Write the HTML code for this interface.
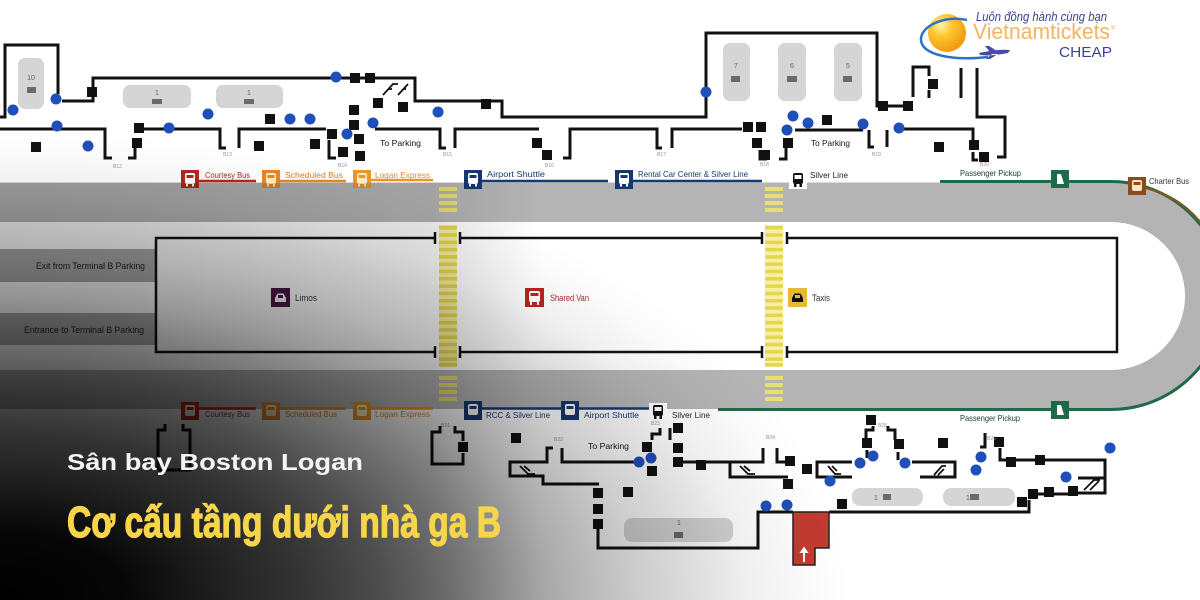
<!DOCTYPE html>
<html><head><meta charset="utf-8">
<style>
html,body{margin:0;padding:0;background:#fff;}
svg{display:block;}
text{font-family:"Liberation Sans",sans-serif;}
</style></head><body>
<svg width="1200" height="600" viewBox="0 0 1200 600" xmlns="http://www.w3.org/2000/svg">
<defs>
<radialGradient id="ov" gradientUnits="userSpaceOnUse" cx="0" cy="0" r="1" gradientTransform="matrix(850,0,0,470,0,600)">
<stop offset="0" stop-color="#000" stop-opacity="1"/>
<stop offset="0.15" stop-color="#000" stop-opacity="0.97"/>
<stop offset="0.28" stop-color="#000" stop-opacity="0.84"/>
<stop offset="0.36" stop-color="#000" stop-opacity="0.77"/>
<stop offset="0.45" stop-color="#000" stop-opacity="0.66"/>
<stop offset="0.55" stop-color="#000" stop-opacity="0.5"/>
<stop offset="0.65" stop-color="#000" stop-opacity="0.33"/>
<stop offset="0.75" stop-color="#000" stop-opacity="0.2"/>
<stop offset="0.82" stop-color="#000" stop-opacity="0.13"/>
<stop offset="0.88" stop-color="#000" stop-opacity="0.06"/>
<stop offset="0.95" stop-color="#000" stop-opacity="0.02"/>
<stop offset="1" stop-color="#000" stop-opacity="0"/>
</radialGradient>
<linearGradient id="ovl" gradientUnits="userSpaceOnUse" x1="0" y1="0" x2="600" y2="0">
<stop offset="0" stop-color="#000" stop-opacity="0.13"/>
<stop offset="0.72" stop-color="#000" stop-opacity="0.1"/>
<stop offset="0.9" stop-color="#000" stop-opacity="0"/>
<stop offset="1" stop-color="#000" stop-opacity="0"/>
</linearGradient>
<radialGradient id="gl" cx="0.35" cy="0.3" r="0.75">
<stop offset="0" stop-color="#fff3a8"/>
<stop offset="0.4" stop-color="#ffc52c"/>
<stop offset="1" stop-color="#ef9512"/>
</radialGradient>
</defs>

<rect width="1200" height="600" fill="#fff"/>

<!-- ROAD -->
<path d="M0,182.5 H1111 A113,113 0 0 1 1111,409 H0 Z" fill="#b4b4b4"/>
<path d="M0,222 H1111 A74,74 0 0 1 1111,370 H0 Z" fill="#fff"/>
<rect x="0" y="249" width="156" height="33" fill="#ababab"/>
<rect x="0" y="313" width="156" height="32" fill="#ababab"/>

<!-- green curb line -->
<path d="M940,181.5 H1111 A114,114 0 0 1 1111,409.5 H718" fill="none" stroke="#1d6b48" stroke-width="3"/>
<path d="M1142,187 Q1178,195 1200,222" fill="none" stroke="#7a5a22" stroke-width="2.5"/>

<!-- crosswalks -->
<g fill="#e9df6f">
<rect x="439" y="187" width="18" height="4"/><rect x="439" y="194" width="18" height="4"/><rect x="439" y="201" width="18" height="4"/><rect x="439" y="208" width="18" height="4"/>
<rect x="439" y="376" width="18" height="4"/><rect x="439" y="383" width="18" height="4"/><rect x="439" y="390" width="18" height="4"/><rect x="439" y="397" width="18" height="4"/>
<rect x="765" y="187" width="18" height="4"/><rect x="765" y="194" width="18" height="4"/><rect x="765" y="201" width="18" height="4"/><rect x="765" y="208" width="18" height="4"/>
<rect x="765" y="376" width="18" height="4"/><rect x="765" y="383" width="18" height="4"/><rect x="765" y="390" width="18" height="4"/><rect x="765" y="397" width="18" height="4"/>
</g>
<rect x="439" y="225" width="18" height="142" fill="#f6f0a4"/>
<rect x="765" y="225" width="18" height="142" fill="#f6f0a4"/>
<g fill="#e6d64c">
<rect x="439" y="226" width="18" height="3.5"/><rect x="439" y="233.3" width="18" height="3.5"/><rect x="439" y="240.6" width="18" height="3.5"/><rect x="439" y="247.9" width="18" height="3.5"/><rect x="439" y="255.2" width="18" height="3.5"/><rect x="439" y="262.5" width="18" height="3.5"/><rect x="439" y="269.8" width="18" height="3.5"/><rect x="439" y="277.1" width="18" height="3.5"/><rect x="439" y="284.4" width="18" height="3.5"/><rect x="439" y="291.7" width="18" height="3.5"/><rect x="439" y="299" width="18" height="3.5"/><rect x="439" y="306.3" width="18" height="3.5"/><rect x="439" y="313.6" width="18" height="3.5"/><rect x="439" y="320.9" width="18" height="3.5"/><rect x="439" y="328.2" width="18" height="3.5"/><rect x="439" y="335.5" width="18" height="3.5"/><rect x="439" y="342.8" width="18" height="3.5"/><rect x="439" y="350.1" width="18" height="3.5"/><rect x="439" y="357.4" width="18" height="3.5"/><rect x="439" y="363" width="18" height="3.5"/>
<rect x="765" y="226" width="18" height="3.5"/><rect x="765" y="233.3" width="18" height="3.5"/><rect x="765" y="240.6" width="18" height="3.5"/><rect x="765" y="247.9" width="18" height="3.5"/><rect x="765" y="255.2" width="18" height="3.5"/><rect x="765" y="262.5" width="18" height="3.5"/><rect x="765" y="269.8" width="18" height="3.5"/><rect x="765" y="277.1" width="18" height="3.5"/><rect x="765" y="284.4" width="18" height="3.5"/><rect x="765" y="291.7" width="18" height="3.5"/><rect x="765" y="299" width="18" height="3.5"/><rect x="765" y="306.3" width="18" height="3.5"/><rect x="765" y="313.6" width="18" height="3.5"/><rect x="765" y="320.9" width="18" height="3.5"/><rect x="765" y="328.2" width="18" height="3.5"/><rect x="765" y="335.5" width="18" height="3.5"/><rect x="765" y="342.8" width="18" height="3.5"/><rect x="765" y="350.1" width="18" height="3.5"/><rect x="765" y="357.4" width="18" height="3.5"/><rect x="765" y="363" width="18" height="3.5"/>
</g>

<!-- island rectangle -->
<g fill="none" stroke="#111" stroke-width="2.5">
<path d="M435,238 H156 V352 H435"/>
<path d="M460,238 H762 M460,352 H762"/>
<path d="M787,238 H1117 V352 H787"/>
<path d="M435,232 V244 M460,232 V244 M762,232 V244 M787,232 V244 M435,346 V358 M460,346 V358 M762,346 V358 M787,346 V358"/>
</g>

<!-- lane labels -->
<text x="36" y="269" font-size="9" fill="#222" textLength="109" lengthAdjust="spacingAndGlyphs">Exit from Terminal B Parking</text>
<text x="24" y="333" font-size="9" fill="#222" textLength="120" lengthAdjust="spacingAndGlyphs">Entrance to Terminal B Parking</text>

<!-- middle icons -->
<g transform="translate(271,288)"><rect width="19" height="19" fill="#4a1846"/><path d="M4,14 V10 L6.5,5.5 H12.5 L15,10 V14 Z" fill="#fff"/><rect x="7" y="7" width="5" height="3" fill="#4a1846"/></g>
<text x="295" y="301" font-size="9" fill="#333" textLength="22" lengthAdjust="spacingAndGlyphs">Limos</text>
<g transform="translate(525,288)"><rect width="19" height="19" fill="#b8261e"/><rect x="4" y="3" width="11" height="11" rx="2" fill="#fff"/><rect x="5.5" y="5" width="8" height="3" fill="#b8261e"/><rect x="5" y="14" width="2" height="3" fill="#fff"/><rect x="12" y="14" width="2" height="3" fill="#fff"/></g>
<text x="550" y="301" font-size="9" fill="#a52a22" textLength="39" lengthAdjust="spacingAndGlyphs">Shared Van</text>
<g transform="translate(788,288)"><rect width="19" height="19" fill="#eab830"/><path d="M4,14 V10 L6.5,5.5 H12.5 L15,10 V14 Z" fill="#111"/><rect x="7" y="7" width="5" height="3" fill="#eab830"/></g>
<text x="812" y="301" font-size="9" fill="#333" textLength="18" lengthAdjust="spacingAndGlyphs">Taxis</text>

<!-- TOP LABEL LINES -->
<g stroke-width="2.5" fill="none">
<path d="M199,181 H256" stroke="#b8261e"/>
<path d="M280,181 H346" stroke="#e0892a"/>
<path d="M371,180 H433" stroke="#e8962e"/>
<path d="M482,181 H608" stroke="#17386e"/>
<path d="M633,181 H762" stroke="#17386e"/>
<path d="M199,408.5 H256" stroke="#b8261e"/>
<path d="M280,408.5 H346" stroke="#e0892a"/>
<path d="M371,408.5 H433" stroke="#e8962e"/>
<path d="M482,408.5 H561" stroke="#17386e"/>
<path d="M579,408.5 H650" stroke="#17386e"/>
</g>

<!-- top icons -->
<g transform="translate(181,170)"><rect width="18" height="18" fill="#b8261e"/><rect x="4" y="3" width="10" height="11" rx="2" fill="#fff"/><rect x="5.5" y="5" width="7" height="3" fill="#b8261e"/><rect x="5" y="14" width="2" height="2.5" fill="#fff"/><rect x="11" y="14" width="2" height="2.5" fill="#fff"/></g>
<g transform="translate(262,170)"><rect width="18" height="18" fill="#e0892a"/><rect x="4" y="3" width="10" height="11" rx="2" fill="#fdebc4"/><rect x="5.5" y="5" width="7" height="3" fill="#e0892a"/><rect x="5" y="14" width="2" height="2.5" fill="#fdebc4"/><rect x="11" y="14" width="2" height="2.5" fill="#fdebc4"/></g>
<g transform="translate(353,170)"><rect width="18" height="18" fill="#e8962e"/><rect x="4" y="3" width="10" height="11" rx="2" fill="#fdebc4"/><rect x="5.5" y="5" width="7" height="3" fill="#e8962e"/><rect x="5" y="14" width="2" height="2.5" fill="#fdebc4"/><rect x="11" y="14" width="2" height="2.5" fill="#fdebc4"/></g>
<g transform="translate(464,170)"><rect width="18" height="19" fill="#17386e"/><rect x="4" y="3" width="10" height="11" rx="2" fill="#fff"/><rect x="5.5" y="5" width="7" height="3" fill="#17386e"/><rect x="5" y="14" width="2" height="2.5" fill="#fff"/><rect x="11" y="14" width="2" height="2.5" fill="#fff"/></g>
<g transform="translate(615,170)"><rect width="18" height="19" fill="#17386e"/><rect x="4" y="3" width="10" height="11" rx="2" fill="#fff"/><rect x="5.5" y="5" width="7" height="3" fill="#17386e"/><rect x="5" y="14" width="2" height="2.5" fill="#fff"/><rect x="11" y="14" width="2" height="2.5" fill="#fff"/></g>
<g transform="translate(789,171)"><rect width="18" height="18" fill="#fff"/><rect x="4" y="2" width="10" height="11" rx="2" fill="#111"/><rect x="5.5" y="4" width="7" height="4" fill="#fff"/><rect x="5" y="13" width="2.5" height="3" fill="#111"/><rect x="10.5" y="13" width="2.5" height="3" fill="#111"/></g>
<g transform="translate(1051,170)"><rect width="18" height="18" fill="#1d6b48"/><path d="M6,4 H10 L13,14 H6 Z" fill="#fff"/></g>
<g transform="translate(1128,177)"><rect width="18" height="18" fill="#8b4a1c"/><rect x="4" y="3" width="10" height="11" rx="2" fill="#fde3c0"/><rect x="5.5" y="5" width="7" height="3" fill="#8b4a1c"/></g>

<g font-size="8.5">
<text x="205" y="178" fill="#a52a22" textLength="45" lengthAdjust="spacingAndGlyphs">Courtesy Bus</text>
<text x="285" y="178" fill="#cf8030" textLength="58" lengthAdjust="spacingAndGlyphs">Scheduled Bus</text>
<text x="375" y="178" fill="#d58a30" textLength="55" lengthAdjust="spacingAndGlyphs">Logan Express</text>
<text x="487" y="177" fill="#17386e" textLength="58" lengthAdjust="spacingAndGlyphs">Airport Shuttle</text>
<text x="638" y="177" fill="#17386e" textLength="110" lengthAdjust="spacingAndGlyphs">Rental Car Center &amp; Silver Line</text>
<text x="810" y="178" fill="#222" textLength="38" lengthAdjust="spacingAndGlyphs">Silver Line</text>
<text x="960" y="176" fill="#1a3434" textLength="61" lengthAdjust="spacingAndGlyphs">Passenger Pickup</text>
<text x="1149" y="184" fill="#333" textLength="40" lengthAdjust="spacingAndGlyphs">Charter Bus</text>
</g>

<!-- bottom icons -->
<g transform="translate(181,402)"><rect width="18" height="18" fill="#b8261e"/><rect x="4" y="3" width="10" height="11" rx="2" fill="#fff"/><rect x="5.5" y="5" width="7" height="3" fill="#b8261e"/></g>
<g transform="translate(262,402)"><rect width="18" height="18" fill="#e0892a"/><rect x="4" y="3" width="10" height="11" rx="2" fill="#fdebc4"/><rect x="5.5" y="5" width="7" height="3" fill="#e0892a"/></g>
<g transform="translate(353,402)"><rect width="18" height="18" fill="#e8962e"/><rect x="4" y="3" width="10" height="11" rx="2" fill="#fdebc4"/><rect x="5.5" y="5" width="7" height="3" fill="#e8962e"/></g>
<g transform="translate(464,401)"><rect width="18" height="19" fill="#17386e"/><rect x="4" y="3" width="10" height="11" rx="2" fill="#fff"/><rect x="5.5" y="5" width="7" height="3" fill="#17386e"/></g>
<g transform="translate(561,401)"><rect width="18" height="19" fill="#17386e"/><rect x="4" y="3" width="10" height="11" rx="2" fill="#fff"/><rect x="5.5" y="5" width="7" height="3" fill="#17386e"/></g>
<g transform="translate(649,403)"><rect width="18" height="18" fill="#fff"/><rect x="4" y="2" width="10" height="11" rx="2" fill="#111"/><rect x="5.5" y="4" width="7" height="4" fill="#fff"/><rect x="5" y="13" width="2.5" height="3" fill="#111"/><rect x="10.5" y="13" width="2.5" height="3" fill="#111"/></g>
<g transform="translate(1051,401)"><rect width="18" height="18" fill="#1d6b48"/><path d="M6,4 H10 L13,14 H6 Z" fill="#fff"/></g>

<g font-size="8.5">
<text x="205" y="417" fill="#a52a22" textLength="45" lengthAdjust="spacingAndGlyphs">Courtesy Bus</text>
<text x="285" y="417" fill="#cf8030" textLength="52" lengthAdjust="spacingAndGlyphs">Scheduled Bus</text>
<text x="375" y="417" fill="#d58a30" textLength="55" lengthAdjust="spacingAndGlyphs">Logan Express</text>
<text x="486" y="418" fill="#17386e" textLength="64" lengthAdjust="spacingAndGlyphs">RCC &amp; Silver Line</text>
<text x="584" y="418" fill="#17386e" textLength="55" lengthAdjust="spacingAndGlyphs">Airport Shuttle</text>
<text x="672" y="418" fill="#222" textLength="38" lengthAdjust="spacingAndGlyphs">Silver Line</text>
<text x="960" y="421" fill="#1a3434" textLength="60" lengthAdjust="spacingAndGlyphs">Passenger Pickup</text>
</g>

<!-- GATE PILLS -->
<g fill="#d5d5d5">
<rect x="18" y="58" width="26" height="51" rx="7"/>
<rect x="123" y="85" width="68" height="23" rx="7"/>
<rect x="216" y="85" width="67" height="23" rx="7"/>
<rect x="723" y="43" width="27" height="58" rx="7"/>
<rect x="778" y="43" width="28" height="58" rx="7"/>
<rect x="834" y="43" width="28" height="58" rx="7"/>
<rect x="624" y="518" width="109" height="24" rx="8"/>
<rect x="852" y="488" width="71" height="18" rx="8"/>
<rect x="943" y="488" width="72" height="18" rx="8"/>
</g>
<g font-size="7" fill="#666" text-anchor="middle">
<text x="31" y="80">10</text>
<text x="157" y="95">1</text>
<text x="249" y="95">1</text>
<text x="736" y="68">7</text>
<text x="792" y="68">6</text>
<text x="848" y="68">5</text>
<text x="679" y="525">1</text>
<text x="876" y="500">1</text>
<text x="968" y="500">1</text>
</g>
<g fill="#6a6a6a">
<rect x="27" y="87" width="9" height="6"/>
<rect x="152" y="99" width="10" height="5"/>
<rect x="244" y="99" width="10" height="5"/>
<rect x="731" y="76" width="9" height="6"/>
<rect x="787" y="76" width="10" height="6"/>
<rect x="843" y="76" width="9" height="6"/>
<rect x="674" y="532" width="9" height="6"/>
<rect x="883" y="494" width="8" height="6"/>
<rect x="970" y="494" width="9" height="6"/>
</g>

<!-- LINES -->
<g fill="none" stroke="#111" stroke-width="3">
<path d="M0,117 H5 V45 H58 V94"/>
<path d="M62,101 H93 V78 H415 V101 H502 V117 H706 V33 H877 V106 H908"/>
<path d="M913,97 V67 H929 V76 M929,90 V98"/>
<path d="M961,68 V98 M977,68 V117 H1005 V157 H997"/>
<path d="M0,129 H105 V158 H112"/>
<path d="M128,158 H135 V145"/>
<path d="M139,129 H220 V148 H226"/>
<path d="M239,148 V129 H326"/>
<path d="M329,140 V158 H336"/>
<path d="M375,129 H440 V148 H446"/>
<path d="M455,148 V129 H539"/>
<path d="M563,158 H570 V129 H657 V148 H662"/>
<path d="M672,148 V129 H742"/>
<path d="M760,150 V159 H767 M779,159 H786 V147"/>
<path d="M795,130 H863"/>
<path d="M869,130 V147 H874 M887,147 V130"/>
<path d="M899,129 H973 V140"/>
<path d="M973,152 V160 H978"/>
<!-- bottom -->
<path d="M158,470 V430 H165 V424 M183,424 V430 H190 V470 H158"/>
<path d="M440,426 V432 H432 V464 H463 V453 M455,426 V432 H463 V441"/>
<path d="M553,448 H547 V462 H510 V476 H543 V484 H599"/>
<path d="M562,448 V462 H634"/>
<path d="M652,440 V434 H660 V428 M670,428 V440"/>
<path d="M678,462 H763 V448"/>
<path d="M730,462 V477 H788"/>
<path d="M777,448 V462 H790"/>
<path d="M852,462 H817 V477 H852"/>
<path d="M866,438 V430 H873 V426 M888,426 V430 H895 V440 M898,452 V460 M867,450 V458"/>
<path d="M912,462 H955 V477 H920"/>
<path d="M985,433 V447 H980"/>
<path d="M1000,448 V460 H1105 V493 H1078 M1078,478 H1105"/>
<path d="M598,525 V548 H758 V512 H793"/>
<path d="M829,512 H1029 V500"/>
<path d="M1033,494 H1073"/>
</g>

<!-- escalators -->
<g fill="none" stroke="#111" stroke-width="1.8">
<path d="M383,95 L393,84 H398 M398,95 L408,84 M388,89 H392 M403,89 H406"/>
<path d="M520,466 L528,474 H535 M524,466 L530,471"/>
<path d="M740,466 L748,474 H755 M744,466 L750,471"/>
<path d="M828,466 L835,474 H841 M832,466 L837,471"/>
<path d="M934,475 L942,466 H946 M938,475 L944,469"/>
<path d="M1084,490 L1094,480 H1100 M1090,490 L1099,481"/>
</g>

<!-- red exit -->
<path d="M793,512 H829 V548 H815 V565 H793 Z" fill="#c33b30" stroke="#222" stroke-width="1.5"/>
<path d="M804,562 V551" stroke="#fff" stroke-width="2"/>
<path d="M799.5,553 L804,546.5 L808.5,553 Z" fill="#fff"/>

<!-- squares -->
<g fill="#111">
<rect x="87" y="87" width="10" height="10"/><rect x="350" y="73" width="10" height="10"/><rect x="365" y="73" width="10" height="10"/><rect x="481" y="99" width="10" height="10"/><rect x="878" y="101" width="10" height="10"/><rect x="903" y="101" width="10" height="10"/><rect x="928" y="79" width="10" height="10"/>
<rect x="31" y="142" width="10" height="10"/><rect x="134" y="123" width="10" height="10"/><rect x="132" y="138" width="10" height="10"/><rect x="254" y="141" width="10" height="10"/><rect x="265" y="114" width="10" height="10"/><rect x="310" y="139" width="10" height="10"/><rect x="327" y="129" width="10" height="10"/><rect x="349" y="105" width="10" height="10"/><rect x="349" y="120" width="10" height="10"/><rect x="354" y="134" width="10" height="10"/><rect x="355" y="151" width="10" height="10"/><rect x="338" y="147" width="10" height="10"/><rect x="373" y="98" width="10" height="10"/><rect x="398" y="102" width="10" height="10"/>
<rect x="532" y="138" width="10" height="10"/><rect x="542" y="150" width="10" height="10"/><rect x="743" y="122" width="10" height="10"/><rect x="756" y="122" width="10" height="10"/><rect x="752" y="138" width="10" height="10"/><rect x="760" y="150" width="10" height="10"/><rect x="783" y="138" width="10" height="10"/><rect x="822" y="115" width="10" height="10"/><rect x="934" y="142" width="10" height="10"/><rect x="969" y="140" width="10" height="10"/><rect x="979" y="152" width="10" height="10"/>
<rect x="511" y="433" width="10" height="10"/><rect x="458" y="442" width="10" height="10"/><rect x="642" y="442" width="10" height="10"/><rect x="647" y="466" width="10" height="10"/><rect x="673" y="423" width="10" height="10"/><rect x="673" y="443" width="10" height="10"/><rect x="673" y="457" width="10" height="10"/><rect x="696" y="460" width="10" height="10"/><rect x="623" y="487" width="10" height="10"/><rect x="593" y="488" width="10" height="10"/><rect x="593" y="504" width="10" height="10"/><rect x="593" y="519" width="10" height="10"/>
<rect x="785" y="456" width="10" height="10"/><rect x="802" y="464" width="10" height="10"/><rect x="783" y="479" width="10" height="10"/><rect x="837" y="499" width="10" height="10"/><rect x="866" y="415" width="10" height="10"/><rect x="862" y="438" width="10" height="10"/><rect x="894" y="439" width="10" height="10"/><rect x="938" y="438" width="10" height="10"/><rect x="994" y="437" width="10" height="10"/><rect x="1006" y="457" width="10" height="10"/><rect x="1035" y="455" width="10" height="10"/><rect x="1068" y="486" width="10" height="10"/><rect x="1044" y="487" width="10" height="10"/><rect x="1028" y="489" width="10" height="10"/><rect x="1017" y="497" width="10" height="10"/>
</g>

<!-- blue dots -->
<g fill="#1f4fb8">
<circle cx="13" cy="110" r="5.5"/><circle cx="56" cy="99" r="5.5"/><circle cx="57" cy="126" r="5.5"/><circle cx="88" cy="146" r="5.5"/><circle cx="169" cy="128" r="5.5"/><circle cx="208" cy="114" r="5.5"/><circle cx="290" cy="119" r="5.5"/><circle cx="310" cy="119" r="5.5"/><circle cx="336" cy="77" r="5.5"/><circle cx="347" cy="134" r="5.5"/><circle cx="373" cy="123" r="5.5"/><circle cx="438" cy="112" r="5.5"/><circle cx="706" cy="92" r="5.5"/><circle cx="793" cy="116" r="5.5"/><circle cx="808" cy="123" r="5.5"/><circle cx="787" cy="130" r="5.5"/><circle cx="863" cy="124" r="5.5"/><circle cx="899" cy="128" r="5.5"/>
<circle cx="639" cy="462" r="5.5"/><circle cx="651" cy="458" r="5.5"/><circle cx="766" cy="506" r="5.5"/><circle cx="787" cy="505" r="5.5"/><circle cx="830" cy="481" r="5.5"/><circle cx="860" cy="463" r="5.5"/><circle cx="873" cy="456" r="5.5"/><circle cx="905" cy="463" r="5.5"/><circle cx="981" cy="457" r="5.5"/><circle cx="976" cy="470" r="5.5"/><circle cx="1066" cy="477" r="5.5"/><circle cx="1110" cy="448" r="5.5"/>
</g>

<!-- To Parking labels -->
<g font-size="8.5" fill="#111">
<text x="380" y="146" textLength="41" lengthAdjust="spacingAndGlyphs">To Parking</text>
<text x="811" y="146" textLength="39" lengthAdjust="spacingAndGlyphs">To Parking</text>
<text x="588" y="449" textLength="41" lengthAdjust="spacingAndGlyphs">To Parking</text>
</g>
<!-- gate tiny labels -->
<g font-size="5" fill="#a09090">
<text x="113" y="168">B12</text><text x="223" y="156">B13</text><text x="338" y="167">B14</text><text x="443" y="156">B15</text><text x="545" y="167">B16</text><text x="657" y="156">B17</text><text x="760" y="166">B18</text><text x="872" y="156">B19</text><text x="980" y="166">B20</text>
<text x="441" y="427">B21</text><text x="554" y="441">B22</text><text x="651" y="425">B23</text><text x="766" y="439">B24</text><text x="878" y="427">B25</text><text x="987" y="440">B26</text>
</g>

<!-- OVERLAY -->
<rect x="0" y="183" width="600" height="417" fill="url(#ovl)"/>
<rect width="1200" height="600" fill="url(#ov)"/>

<!-- LOGO -->
<circle cx="947" cy="33" r="19" fill="url(#gl)"/>
<path d="M967,20 C945,15 920,26 921,40 C922,55 952,61 988,57" fill="none" stroke="#2b74c4" stroke-width="2.5"/>
<path d="M979,53 C988,51 1000,49 1010,50 L1008,53 C998,55 988,56 980,55 Z M990,52 L985,46 L989,46 L997,51 Z M992,54 L986,59 L990,59 L998,54 Z" fill="#4a48a8"/>
<text x="976" y="21" font-size="13" font-style="italic" fill="#3b3f9a" textLength="131" lengthAdjust="spacingAndGlyphs">Luôn đồng hành cùng bạn</text>
<text x="973" y="39" font-size="22" fill="#f2b463" textLength="137" lengthAdjust="spacingAndGlyphs">Vietnamtickets</text>
<text x="1111" y="30" font-size="6" fill="#f2b463">®</text>
<text x="1059" y="57" font-size="15" fill="#3b40a0" textLength="53" lengthAdjust="spacingAndGlyphs">CHEAP</text>

<!-- HEADINGS -->
<text x="67" y="470" font-family="DejaVu Sans, Liberation Sans, sans-serif" font-weight="bold" font-size="23" fill="#f4f4f4" textLength="296" lengthAdjust="spacingAndGlyphs">Sân bay Boston Logan</text>
<text x="67" y="537" font-family="Liberation Sans, sans-serif" font-weight="bold" font-size="44" fill="#f6d54b" stroke="#f6d54b" stroke-width="1.3" textLength="434" lengthAdjust="spacingAndGlyphs">Cơ cấu tầng dưới nhà ga B</text>
</svg>
</body></html>
